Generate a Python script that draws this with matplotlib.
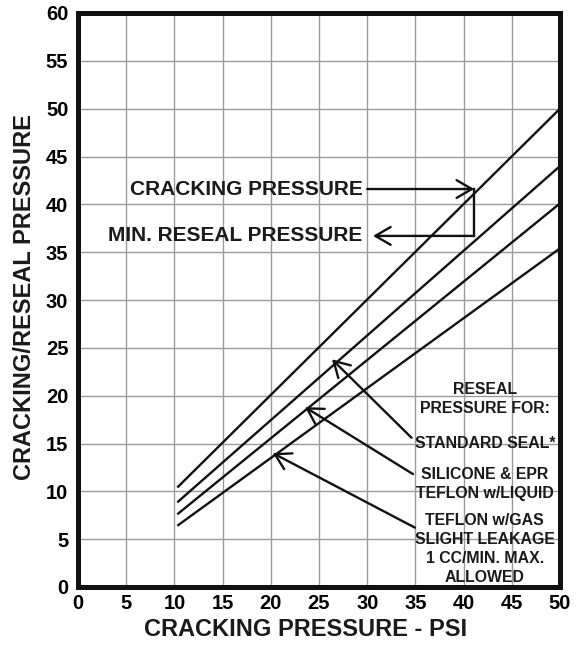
import matplotlib
matplotlib.use("Agg")
import matplotlib.pyplot as plt
import numpy as np

plt.rcParams['font.family'] = ['Liberation Sans', 'DejaVu Sans']
plt.rcParams['font.weight'] = 'bold'

# ---- data ----
crack_x = [10.3, 50.0]
cracking = [10.4, 50.0]
standard_seal = [8.85, 44.0]
silicone_epr = [7.6, 40.1]
teflon_gas = [6.4, 35.4]

x_ticks = list(range(0, 51, 5))
y_ticks = list(range(0, 61, 5))

legend_lines = ["RESEAL", "PRESSURE FOR:", "STANDARD SEAL*", "SILICONE & EPR",
                "TEFLON w/LIQUID", "TEFLON w/GAS", "SLIGHT LEAKAGE",
                "1 CC/MIN. MAX.", "ALLOWED"]
legend_y = [20.6, 18.7, 15.0, 11.8, 9.8, 6.9, 5.0, 3.0, 1.0]

fig = plt.figure(figsize=(5.81, 6.49), dpi=100)
ax = fig.add_axes([78/581, 1-587/649, (560-78)/581, (587-13)/649])

ax.set_xlim(0, 50)
ax.set_ylim(0, 60)
ax.set_xticks(x_ticks)
ax.set_yticks(y_ticks)
ax.grid(True, color='#9a9a9a', lw=1.0)
ax.set_axisbelow(True)
ax.tick_params(length=0, labelsize=14.5)
ax.tick_params(axis='x', pad=5)
ax.tick_params(axis='y', pad=7)
for lab in ax.get_xticklabels() + ax.get_yticklabels():
    lab.set_fontweight('bold')
for s in ax.spines.values():
    s.set_linewidth(3.6)
    s.set_color('#111111')

lw = 1.7
for ys in (cracking, standard_seal, silicone_epr, teflon_gas):
    ax.plot(crack_x, ys, color='#111111', lw=lw, solid_capstyle='butt')

ap = dict(arrowstyle='->,head_length=0.55,head_width=0.32', lw=lw, color='#111111',
          shrinkA=0, shrinkB=0, mutation_scale=20)

# cracking / reseal explanatory arrows
ax.text(29.5, 41.6, "CRACKING PRESSURE", ha='right', va='center', fontsize=15,
        fontweight='bold', color='#1a1a1a')
ax.text(29.5, 36.7, "MIN. RESEAL PRESSURE", ha='right', va='center', fontsize=15,
        fontweight='bold', color='#1a1a1a')
ax.annotate('', xy=(41.1, 41.6), xytext=(30.0, 41.6), arrowprops=ap)
ax.plot([41.1, 41.1], [41.6, 36.7], color='#111111', lw=lw)
ax.annotate('', xy=(30.6, 36.7), xytext=(41.1, 36.7), arrowprops=ap)

# right legend text
for t, y in zip(legend_lines, legend_y):
    ax.text(42.2, y, t, ha='center', va='center', fontsize=11.4, fontweight='bold',
            color='#1a1a1a')

# pointer arrows
ax.annotate('', xy=(26.35, 23.8), xytext=(34.6, 15.6), arrowprops=ap)
ax.annotate('', xy=(23.55, 18.8), xytext=(34.75, 11.8), arrowprops=ap)
ax.annotate('', xy=(20.2, 14.0), xytext=(34.96, 6.2), arrowprops=ap)

fig.text(306/581, 1-630/649, "CRACKING PRESSURE - PSI", ha='center', va='center',
         fontsize=17, fontweight='bold', color='#1a1a1a')
fig.text(25/581, 1-297.5/649, "CRACKING/RESEAL PRESSURE", ha='center', va='center',
         rotation=90, fontsize=17, fontweight='bold', color='#1a1a1a')

fig.savefig("out.png", dpi=100)
